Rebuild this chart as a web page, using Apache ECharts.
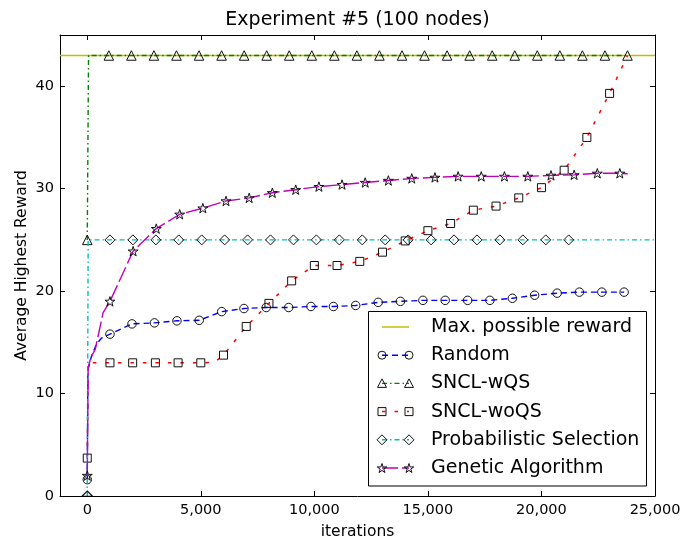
<!DOCTYPE html>
<html>
<head>
<meta charset="utf-8">
<script src="https://cdn.jsdelivr.net/npm/echarts@6/dist/echarts.min.js"></script>
<style>
  html, body { margin: 0; padding: 0; background: #fff; }
  #chart { width: 684px; height: 539px; }
</style>
</head>
<body>
<div id="chart"></div>
<script>
// ---- data ----
const chartTitle = 'Experiment #5 (100 nodes)';
const xName = 'iterations';
const yName = 'Average Highest Reward';
const xTicks = [0, 5000, 10000, 15000, 20000, 25000];
const yTicks = [0, 10, 20, 30, 40];
const xMin = -1200, xMax = 25000, yMin = 0, yMax = 45;

const seriesNames = ['Max. possible reward', 'Random', 'SNCL-wQS', 'SNCL-woQS',
  'Probabilistic Selection', 'Genetic Algorithm'];

const maxReward = 43;

// Random: marked samples, plus the unmarked rise right after the start
const randomIter = [0, 1000, 1970, 2960, 3950, 4930, 5920, 6900, 7880, 8870, 9850, 10840,
  11820, 12810, 13790, 14780, 15760, 16750, 17730, 18720, 19700, 20690, 21670, 22660, 23640];
const randomReward = [1.6, 15.8, 16.8, 16.9, 17.1, 17.15, 18.0, 18.3, 18.4, 18.4, 18.5, 18.5,
  18.6, 18.9, 19.0, 19.1, 19.1, 19.1, 19.1, 19.3, 19.6, 19.8, 19.9, 19.9, 19.9];
const randomBendIter = [30, 180, 400, 620];
const randomBendReward = [12.3, 13.6, 14.8, 15.4];

// SNCL-wQS
const wqsIter = [0, 950, 1943, 2936, 3929, 4922, 5915, 6908, 7901, 8894, 9887, 10880, 11873,
  12866, 13859, 14852, 15845, 16838, 17831, 18824, 19817, 20810, 21803, 22796, 23789];
const wqsReward = [25, 43, 43, 43, 43, 43, 43, 43, 43, 43, 43, 43, 43,
  43, 43, 43, 43, 43, 43, 43, 43, 43, 43, 43, 43];
const wqsBendIter = [57];
const wqsBendReward = [43];

// SNCL-woQS
const woqsIter = [0, 1000, 2000, 3000, 4000, 5000, 6000, 7000, 8000, 9000, 10000, 11000,
  12000, 13000, 14000, 15000, 16000, 17000, 18000, 19000, 20000, 21000, 22000, 23000];
const woqsReward = [3.7, 13.0, 13.0, 13.0, 13.0, 13.0, 13.75, 16.55, 18.8, 21.0, 22.5, 22.5,
  22.9, 23.8, 24.9, 25.9, 26.6, 27.9, 28.3, 29.1, 30.1, 31.8, 35.0, 39.3];
const woqsBendIter = [40, 5600, 23790];
const woqsBendReward = [13.0, 13.05, 43.0];

// Probabilistic Selection
const probIter = [0, 1000, 2010, 3020, 4030, 5040, 6050, 7060, 8070, 9080, 10090, 11100,
  12110, 13120, 14130, 15140, 16150, 17160, 18170, 19180, 20190, 21200];
const probReward = [0, 25, 25, 25, 25, 25, 25, 25, 25, 25, 25, 25,
  25, 25, 25, 25, 25, 25, 25, 25, 25, 25];
const probBendIter = [40, 26000];
const probBendReward = [25, 25];

// Genetic Algorithm
const gaIter = [0, 1000, 2020, 3040, 4070, 5090, 6110, 7130, 8150, 9180, 10200, 11220,
  12240, 13260, 14290, 15310, 16330, 17350, 18370, 19400, 20420, 21440, 22460, 23450];
const gaReward = [2.0, 19.0, 23.9, 26.1, 27.5, 28.1, 28.8, 29.1, 29.6, 29.9, 30.2, 30.4,
  30.6, 30.8, 31.0, 31.1, 31.2, 31.2, 31.2, 31.2, 31.3, 31.35, 31.5, 31.5];
const gaBendIter = [40, 150, 350, 700, 23800];
const gaBendReward = [12.5, 13.5, 14.3, 17.9, 31.45];

// ---- styles ----
const FONT = '"DejaVu Sans", sans-serif';
const STAR = 'path://M0,-1L0.2245,-0.309L0.951,-0.309L0.363,0.118L0.588,0.809L0,0.382L-0.588,0.809L-0.363,0.118L-0.951,-0.309L-0.2245,-0.309Z';

const styles = [
  { color: '#bfbf00', dash: 'solid', symbol: 'none', size: 0, width: 1.5 },
  { color: '#0000ff', dash: [6, 4], symbol: 'circle', size: 8.5, width: 1.4 },
  { color: '#008000', dash: [5, 3, 1.5, 3], symbol: 'triangle', size: 9.5, width: 1.4 },
  { color: '#ff0000', dash: [3.5, 9], symbol: 'rect', size: 8, width: 1.5 },
  { color: '#00bfbf', dash: [5, 3, 1.5, 3], symbol: 'diamond', size: 10, width: 1.4 },
  { color: '#bf00bf', dash: [16, 4], symbol: STAR, size: 10, width: 1.4 }
];

function buildData(markIt, markVal, bendIt, bendVal) {
  const pts = markIt.map((x, i) => ({ value: [x, markVal[i]] }));
  bendIt.forEach((x, i) => pts.push({ value: [x, bendVal[i]], symbol: 'none' }));
  pts.sort((a, b) => a.value[0] - b.value[0]);
  return pts;
}

function lineSeries(idx, data) {
  const s = styles[idx];
  return {
    name: seriesNames[idx],
    type: 'line',
    data: data,
    symbol: s.symbol,
    symbolSize: s.size,
    symbolKeepAspect: true,
    showAllSymbol: true,
    clip: true,
    animation: false,
    lineStyle: { color: s.color, width: s.width, type: s.dash },
    itemStyle: { color: 'rgba(0,0,0,0)', borderColor: '#111', borderWidth: 1 },
    emphasis: { disabled: true },
    z: 2 + idx
  };
}

// a diamond sitting on the bottom edge is cut by the plot frame: keep only its upper half
const probData = buildData(probIter, probReward, probBendIter, probBendReward);
probData.forEach(d => {
  if (d.value[1] === yMin && d.symbol !== 'none') {
    d.symbol = 'triangle';
    d.symbolSize = [10, 5];
    d.symbolKeepAspect = false;
    d.symbolOffset = [0, -2.5];
  }
});

const series = [
  lineSeries(0, [[xMin, maxReward], [xMax, maxReward]]),
  lineSeries(1, buildData(randomIter, randomReward, randomBendIter, randomBendReward)),
  lineSeries(2, buildData(wqsIter, wqsReward, wqsBendIter, wqsBendReward)),
  lineSeries(3, buildData(woqsIter, woqsReward, woqsBendIter, woqsBendReward)),
  lineSeries(4, probData),
  lineSeries(5, buildData(gaIter, gaReward, gaBendIter, gaBendReward))
];

// ---- legend (matplotlib-style handles: marker, line, marker) ----
const G = { left: 60, right: 29, top: 35, bottom: 43 };
const legendBox = { x: 368.5, y: 311.5, w: 278, h: 174.5 };
const rowY0 = 327, rowStep = 28.2;
const handleX1 = 382, handleX2 = 409, textX = 431;

function markerShape(kind, cx, cy) {
  const st = { fill: 'none', stroke: '#111', lineWidth: 1 };
  if (kind === 'circle') return { type: 'circle', shape: { cx, cy, r: 4 }, style: st, z: 102 };
  if (kind === 'rect') return { type: 'rect', shape: { x: cx - 4, y: cy - 4, width: 8, height: 8 }, style: st, z: 102 };
  if (kind === 'triangle') return { type: 'polygon', shape: { points: [[cx, cy - 4.5], [cx + 4.5, cy + 4], [cx - 4.5, cy + 4]] }, style: st, z: 102 };
  if (kind === 'diamond') return { type: 'polygon', shape: { points: [[cx, cy - 5], [cx + 5, cy], [cx, cy + 5], [cx - 5, cy]] }, style: st, z: 102 };
  // star
  const base = [[0, -1], [0.2245, -0.309], [0.951, -0.309], [0.363, 0.118], [0.588, 0.809],
    [0, 0.382], [-0.588, 0.809], [-0.363, 0.118], [-0.951, -0.309], [-0.2245, -0.309]];
  return { type: 'polygon', shape: { points: base.map(p => [cx + p[0] * 5, cy + p[1] * 5 + 0.5]) }, style: st, z: 102 };
}

const legendKinds = ['none', 'circle', 'triangle', 'rect', 'diamond', 'star'];
const graphics = [
  { type: 'rect', shape: { x: legendBox.x, y: legendBox.y, width: legendBox.w, height: legendBox.h },
    style: { fill: '#fff', stroke: '#000', lineWidth: 1 }, z: 100 }
];
seriesNames.forEach((name, i) => {
  const cy = rowY0 + i * rowStep;
  const s = styles[i];
  graphics.push({ type: 'line', shape: { x1: handleX1, y1: cy, x2: handleX2, y2: cy },
    style: { stroke: s.color, lineWidth: s.width, lineDash: s.dash === 'solid' ? null : s.dash }, z: 101 });
  if (legendKinds[i] !== 'none') {
    graphics.push(markerShape(legendKinds[i], handleX1, cy));
    graphics.push(markerShape(legendKinds[i], handleX2, cy));
  }
  graphics.push({ type: 'text', x: textX, y: cy, style: { text: name, font: '19px ' + FONT,
    fill: '#000', textVerticalAlign: 'middle', textAlign: 'left' }, z: 102 });
});
graphics.push({ type: 'text', x: 357.5, y: 20, style: { text: chartTitle, font: '19px ' + FONT,
  fill: '#000', textAlign: 'center', textVerticalAlign: 'middle' }, z: 102 });

const tickStyle = { color: '#000', width: 1 };
const labelStyle = { color: '#000', fontSize: 14.5, fontFamily: FONT };
const fmt = v => Number(v).toLocaleString('en-US');

const option = {
  animation: false,
  backgroundColor: '#fff',
  grid: Object.assign({ containLabel: false, outerBoundsMode: 'none' }, G),
  xAxis: [
    { type: 'value', min: xMin, max: xMax, position: 'bottom',
      name: xName, nameLocation: 'middle', nameGap: 28, nameMoveOverlap: false,
      nameTextStyle: { color: '#000', fontSize: 15.5, fontFamily: FONT },
      axisLine: { show: true, onZero: false, lineStyle: tickStyle },
      axisTick: { show: true, inside: true, length: 5, customValues: xTicks, lineStyle: tickStyle },
      axisLabel: Object.assign({ customValues: xTicks, formatter: fmt, margin: 7 }, labelStyle),
      splitLine: { show: false } },
    { type: 'value', min: xMin, max: xMax, position: 'top',
      axisLine: { show: true, onZero: false, lineStyle: tickStyle },
      axisTick: { show: true, inside: true, length: 5, customValues: xTicks, lineStyle: tickStyle },
      axisLabel: { show: false }, splitLine: { show: false } }
  ],
  yAxis: [
    { type: 'value', min: yMin, max: yMax, position: 'left',
      name: yName, nameLocation: 'middle', nameGap: 30, nameMoveOverlap: false,
      nameTextStyle: { color: '#000', fontSize: 15.5, fontFamily: FONT },
      axisLine: { show: true, onZero: false, lineStyle: tickStyle },
      axisTick: { show: true, inside: true, length: 5, customValues: yTicks, lineStyle: tickStyle },
      axisLabel: Object.assign({ customValues: yTicks, margin: 6 }, labelStyle),
      splitLine: { show: false } },
    { type: 'value', min: yMin, max: yMax, position: 'right',
      axisLine: { show: true, onZero: false, lineStyle: tickStyle },
      axisTick: { show: true, inside: true, length: 5, customValues: yTicks, lineStyle: tickStyle },
      axisLabel: { show: false }, splitLine: { show: false } }
  ],
  series: series,
  graphic: graphics
};

const chart = echarts.init(document.getElementById('chart'), null, { renderer: 'canvas' });
chart.setOption(option);
</script>
</body>
</html>
